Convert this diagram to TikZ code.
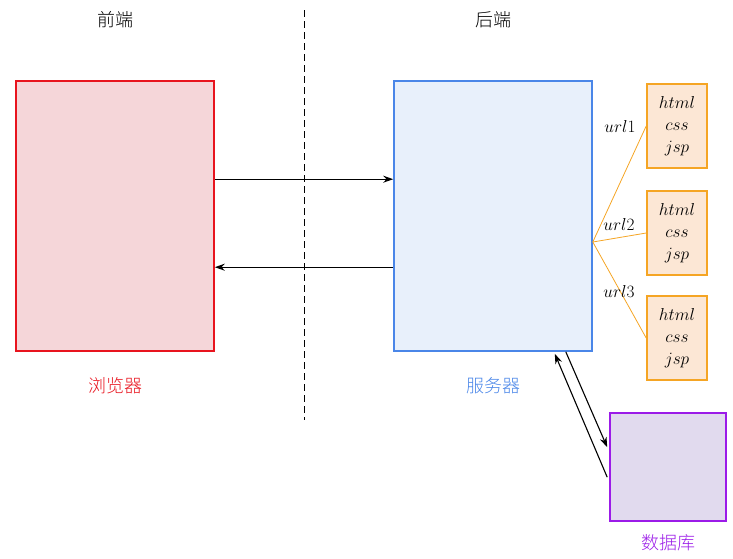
\documentclass[tikz,border=0pt]{standalone}
\usepackage{fontspec}
\newfontfamily\cjk{Noto Sans CJK SC Light}[Scale=1]
\usetikzlibrary{arrows.meta,calc}
\definecolor{redS}{HTML}{E8141E}
\definecolor{redF}{HTML}{F5D6D9}
\definecolor{blueS}{HTML}{4A86E8}
\definecolor{blueF}{HTML}{E8F0FB}
\definecolor{oraS}{HTML}{F5A524}
\definecolor{oraF}{HTML}{FCE7D5}
\definecolor{purS}{HTML}{9B1BE8}
\definecolor{purF}{HTML}{E1DAEE}
\begin{document}
\begin{tikzpicture}[x=1pt,y=-1pt,
  bigbox/.style={draw, line width=1.6pt, minimum width=198pt, minimum height=270pt, inner sep=0pt},
  pagebox/.style={draw=oraS, fill=oraF, line width=1.6pt, minimum width=60pt, minimum height=84pt, inner sep=0pt, align=center, font=\fontsize{17.5}{22}\selectfont},
  cjklabel/.style={font=\cjk\fontsize{18}{21}\selectfont},
  conn/.style={line width=1.1pt, -{Stealth[length=10pt,width=7pt]}},
  fan/.style={draw=oraS, line width=0.8pt},
  urllab/.style={font=\fontsize{17.5}{20}\selectfont}]
\useasboundingbox (0,0) rectangle (733,558);
\node[bigbox, draw=redS, fill=redF] (br) at (115,216) {};
\node[bigbox, draw=blueS, fill=blueF] (sv) at (493,216) {};
\node[pagebox] (p1) at (677,126) {$html$\\$css$\\$jsp$};
\node[pagebox] (p2) at (677,233) {$html$\\$css$\\$jsp$};
\node[pagebox] (p3) at (677,338) {$html$\\$css$\\$jsp$};
\node[draw=purS, fill=purF, line width=1.6pt, minimum width=116pt, minimum height=108pt, inner sep=0pt] (db) at (668,467) {};

\node[cjklabel] (t1) at (115,20) {前端};
\node[cjklabel] (t2) at (493,20) {后端};
\node[cjklabel, text=redS] (l1) at (115,386) {浏览器};
\node[cjklabel, text=blueS] (l2) at (493,386) {服务器};
\node[cjklabel, text=purS] (l3) at (668,543) {数据库};

\coordinate (d1) at (304,10);
\coordinate (d2) at (304,420);
\draw[dashed, line width=1pt, dash pattern=on 7pt off 4pt] (d1) -- (d2);

\draw[conn] ($(br.north east)+(0,99)$) -- ($(sv.north west)+(0,99)$);
\draw[conn] ($(sv.north west)+(0,187)$) -- ($(br.north east)+(0,187)$);

\coordinate (fp) at ($(sv.east)+(0,26)$);
\draw[fan] (fp) -- (p1.west);
\draw[fan] (fp) -- (p2.west);
\draw[fan] (fp) -- (p3.west);
\node[urllab] (u1) at (620,126) {$url1$};
\node[urllab] (u2) at (619,224) {$url2$};
\node[urllab] (u3) at (619,291) {$url3$};

\draw[conn] ($(sv.south east)+(-27,0)$) -- ($(db.north west)+(-2,35)$);
\draw[conn] ($(db.north west)+(-2,65)$) -- ($(sv.south east)+(-38,2)$);
\end{tikzpicture}
\end{document}
